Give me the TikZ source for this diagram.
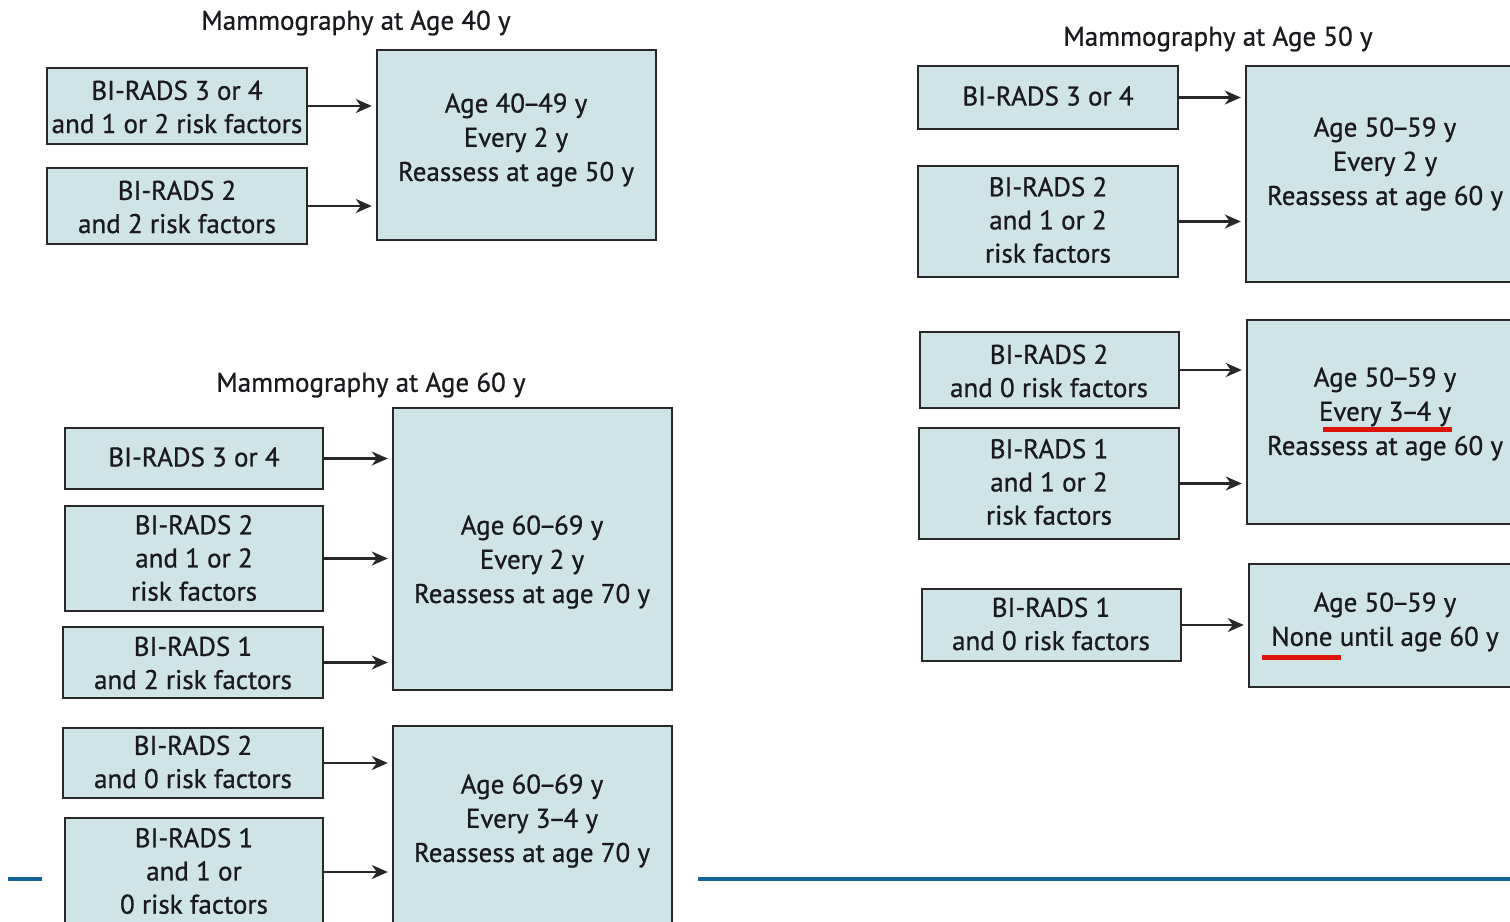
\documentclass[tikz,border=0pt]{standalone}
\usepackage{fontspec}
\setmainfont[FakeBold=0.8]{PT Sans}
\usetikzlibrary{arrows.meta,fit}
\definecolor{boxfill}{RGB}{207,228,231}
\definecolor{boxline}{RGB}{40,40,40}
\definecolor{txt}{RGB}{25,25,30}
\definecolor{rulecol}{RGB}{18,100,152}
\definecolor{mark}{RGB}{220,20,10}
\newcommand{\nd}{\kern-1.2pt--\kern-1.2pt}
\begin{document}
\begin{tikzpicture}[x=0.5pt,y=-0.5pt,
  box/.style={draw=boxline,fill=boxfill,line width=1.2pt,inner sep=0pt},
  lbl/.style={align=center,text=txt,inner sep=0pt,font=\fontsize{13.5}{16.6}\selectfont},
  body/.style={align=center,text=txt,inner sep=0pt,font=\fontsize{13.5}{17.1}\selectfont},
  ttl/.style={text=txt,inner sep=0pt,font=\fontsize{13.5}{17}\selectfont},
  arr/.style={draw=boxline,line width=1.1pt,-{Stealth[length=8pt,width=7pt,inset=2.5pt]},shorten >=2pt},
  redmark/.style={draw=mark,line width=2.5pt},
  bluerule/.style={draw=rulecol,line width=2pt}]
\useasboundingbox (0,0) rectangle (1510,921);
\clip (0,0) rectangle (1510,921);
\fill[white] (0,0) rectangle (1510,921);

% ---------- Panel: age 40 ----------
\node[ttl] (t40) at (356,23) {Mammography at Age 40 y};
\node[box,fit={(47,68) (307,144)}] (a1) {};
\node[lbl] (a1t) at (177,107) {BI-RADS 3 or 4\\and 1 or 2 risk factors};
\node[box,fit={(47,168) (307,244)}] (a2) {};
\node[lbl] (a2t) at (177,207) {BI-RADS 2\\and 2 risk factors};
\node[box,fit={(377,50) (656,240)}] (A) {};
\node[body] (At) at (516,140) {Age 40\nd49 y\\Every 2 y\\Reassess at age 50 y};
\draw[arr] (a1.east) -- (a1.east -| A.west);
\draw[arr] (a2.east) -- (a2.east -| A.west);

% ---------- Panel: age 60 ----------
\node[ttl] (t60) at (371,385) {Mammography at Age 60 y};
\node[box,fit={(65,428) (323,489)}] (b1) {};
\node[lbl] (b1t) at (194,457) {BI-RADS 3 or 4};
\node[box,fit={(65,506) (323,611)}] (b2) {};
\node[lbl] (b2t) at (194,558) {BI-RADS 2\\and 1 or 2\\risk factors};
\node[box,fit={(63,627) (323,698)}] (b3) {};
\node[lbl] (b3t) at (193,663) {BI-RADS 1\\and 2 risk factors};
\node[box,fit={(393,408) (672,690)}] (B) {};
\node[body] (Bt) at (532,562) {Age 60\nd69 y\\Every 2 y\\Reassess at age 70 y};
\draw[arr] (b1.east) -- (b1.east -| B.west);
\draw[arr] (b2.east) -- (b2.east -| B.west);
\draw[arr] (b3.east) -- (b3.east -| B.west);

\node[box,fit={(63,728) (323,798)}] (b4) {};
\node[lbl] (b4t) at (193,762) {BI-RADS 2\\and 0 risk factors};
\node[box,fit={(65,818) (323,926)}] (b5) {};
\node[lbl] (b5t) at (194,871) {BI-RADS 1\\and 1 or\\0 risk factors};
\node[box,fit={(393,726) (672,960)}] (D) {};
\node[body] (Dt) at (532,821) {Age 60\nd69 y\\Every 3\nd4 y\\Reassess at age 70 y};
\draw[arr] (b4.east) -- (b4.east -| D.west);
\draw[arr] (b5.east) -- (b5.east -| D.west);

% ---------- Panel: age 50 ----------
\node[ttl] (t50) at (1218,39) {Mammography at Age 50 y};
\node[box,fit={(918,66) (1178,129)}] (c1) {};
\node[lbl] (c1t) at (1048,96) {BI-RADS 3 or 4};
\node[box,fit={(918,166) (1178,277)}] (c2) {};
\node[lbl] (c2t) at (1048,220) {BI-RADS 2\\and 1 or 2\\risk factors};
\node[box,fit={(1246,66) (1560,282)}] (C) {};
\node[body] (Ct) at (1385,164) {Age 50\nd59 y\\Every 2 y\\Reassess at age 60 y};
\draw[arr] (c1.east) -- (c1.east -| C.west);
\draw[arr] (c2.east) -- (c2.east -| C.west);

\node[box,fit={(920,332) (1179,408)}] (c3) {};
\node[lbl] (c3t) at (1049,371) {BI-RADS 2\\and 0 risk factors};
\node[box,fit={(919,428) (1179,539)}] (c4) {};
\node[lbl] (c4t) at (1049,482) {BI-RADS 1\\and 1 or 2\\risk factors};
\node[box,fit={(1247,320) (1560,524)}] (E) {};
\node[body] (Et) at (1385,414) {Age 50\nd59 y\\Every 3\nd4 y\\Reassess at age 60 y};
\draw[arr] (c3.east) -- (c3.east -| E.west);
\draw[arr] (c4.east) -- (c4.east -| E.west);

\node[box,fit={(922,589) (1181,661)}] (c5) {};
\node[lbl] (c5t) at (1051,624) {BI-RADS 1\\and 0 risk factors};
\node[box,fit={(1249,564) (1560,687)}] (F) {};
\node[body] (Ft) at (1385,622) {Age 50\nd59 y\\None until age 60 y};
\draw[arr] (c5.east) -- (c5.east -| F.west);

% red marks
\draw[redmark] (1323,429) -- (1452,429);
\draw[redmark] (1262,657) -- (1341,657);

% blue rule
\draw[bluerule] (8,878.5) -- (42,878.5);
\draw[bluerule] (698,878.5) -- (1510,878.5);
\end{tikzpicture}
\end{document}
